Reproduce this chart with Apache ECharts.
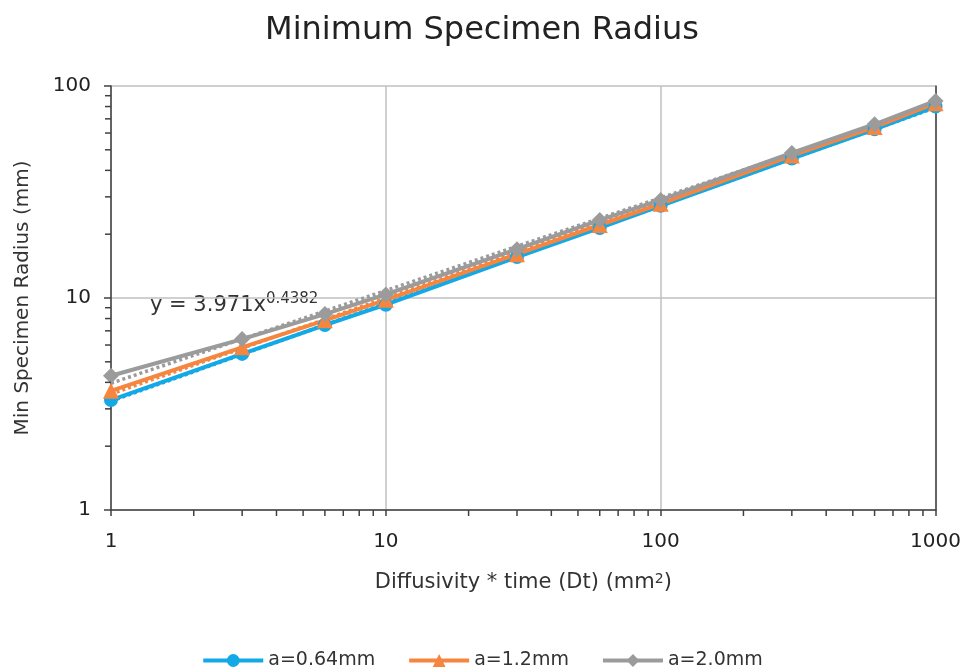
<!DOCTYPE html>
<html>
<head>
<meta charset="utf-8">
<script src="https://cdn.jsdelivr.net/npm/echarts@6/dist/echarts.min.js"></script>
<style>
html,body{margin:0;padding:0;background:#fff;}
#chart{width:964px;height:668px;}
</style>
</head>
<body>
<div id="chart"></div>
<script>
// ---- data ----
const dtValues = [1, 3, 6, 10, 30, 60, 100, 300, 600, 1000];
const radiusA064 = [3.3, 5.45, 7.45, 9.3, 15.6, 21.4, 27.2, 45.5, 62.5, 80];
const radiusA12 = [3.65, 5.85, 7.85, 9.8, 16.1, 22.1, 27.8, 47, 64, 83];
const radiusA20 = [4.3, 6.4, 8.4, 10.4, 17, 23.3, 29, 48.3, 66, 85];
const seriesNames = ['a=0.64mm', 'a=1.2mm', 'a=2.0mm'];
const xMinorTicks = [2,3,4,5,6,7,8,9,20,30,40,50,60,70,80,90,200,300,400,500,600,700,800,900];
const yMinorTicks = [2,3,4,5,6,7,8,9,20,30,40,50,60,70,80,90];
const equationText = ['y = 3.971x', '0.4382'];

const colors = ['#12a9e6', '#f5853f', '#9b9b9b'];
const symbols = ['circle', 'triangle', 'diamond'];
const symbolSizes = [14, 16, 16];
const FONT = 'DejaVu Sans';

function pairs(xs, ys){ return xs.map((x,i)=>[x, ys[i]]); }
function powerFit(xs, ys){
  const lx = xs.map(Math.log), ly = ys.map(Math.log);
  const n = xs.length;
  const mx = lx.reduce((a,b)=>a+b,0)/n, my = ly.reduce((a,b)=>a+b,0)/n;
  let sxy=0, sxx=0;
  for(let i=0;i<n;i++){ sxy += (lx[i]-mx)*(ly[i]-my); sxx += (lx[i]-mx)*(lx[i]-mx); }
  const b = sxy/sxx, a = Math.exp(my - b*mx);
  const x0 = xs[0], x1 = xs[n-1];
  return [[x0, a*Math.pow(x0,b)], [x1, a*Math.pow(x1,b)]];
}

const allData = [radiusA064, radiusA12, radiusA20];
const series = [];
allData.forEach((d,i)=>{
  series.push({
    name: seriesNames[i] + ' trend', type: 'line', data: powerFit(dtValues, d),
    showSymbol: false, symbol: 'none', silent: true, z: 2,
    lineStyle: {color: colors[i], width: 3.5, type: [3, 3]}
  });
});
allData.forEach((d,i)=>{
  series.push({
    name: seriesNames[i], type: 'line', data: pairs(dtValues, d),
    symbol: symbols[i], symbolSize: symbolSizes[i], z: 3,
    itemStyle: {color: colors[i]},
    lineStyle: {color: colors[i], width: 4}
  });
});
// minor ticks drawn through the axis scales
series.push({
  type: 'custom', silent: true, z: 5,
  data: xMinorTicks.map(v=>[v, 1]),
  renderItem: function(params, api){
    const p = api.coord([api.value(0), api.value(1)]);
    return {type:'line', shape:{x1:p[0], y1:p[1], x2:p[0], y2:p[1]+6}, style:{stroke:'#404040', lineWidth:1.5}};
  }
});
series.push({
  type: 'custom', silent: true, z: 5,
  data: yMinorTicks.map(v=>[1, v]),
  renderItem: function(params, api){
    const p = api.coord([api.value(0), api.value(1)]);
    return {type:'line', shape:{x1:p[0]-6, y1:p[1], x2:p[0], y2:p[1]}, style:{stroke:'#404040', lineWidth:1.5}};
  }
});

const chart = echarts.init(document.getElementById('chart'));
chart.setOption({
  animation: false,
  backgroundColor: '#fff',
  textStyle: {fontFamily: FONT},
  title: {
    text: 'Minimum Specimen Radius', left: 'center', top: 10,
    textStyle: {fontFamily: FONT, fontSize: 32, fontWeight: 'normal', color: '#222'}
  },
  grid: {left: 111, right: 27, top: 86, bottom: 158},
  legend: {
    data: seriesNames, top: 646, left: 'center', itemWidth: 60, itemHeight: 16, itemGap: 32,
    lineStyle: {width: 4},
    textStyle: {fontFamily: FONT, fontSize: 19, color: '#333'}
  },
  xAxis: {
    type: 'log', logBase: 10, min: 1, max: 1000,
    axisLine: {show: true, lineStyle: {color: '#404040', width: 1.5}},
    axisTick: {show: true, length: 6, lineStyle: {color: '#404040', width: 1.5}},
    axisLabel: {fontFamily: FONT, fontSize: 20, color: '#222', margin: 22, formatter: v => String(v)},
    splitLine: {show: true, lineStyle: {color: '#c0c0c0', width: 1.5}},
    name: '{a|Diffusivity * time (Dt) (mm}{s|2}{a|)}',
    nameLocation: 'middle', nameGap: 62,
    nameTextStyle: {rich: {
      a: {fontFamily: FONT, fontSize: 21, color: '#333'},
      s: {fontFamily: FONT, fontSize: 14, color: '#333', verticalAlign: 'top', padding: [0,0,8,0]}
    }}
  },
  yAxis: [{
    type: 'log', logBase: 10, min: 1, max: 100,
    axisLine: {show: true, lineStyle: {color: '#404040', width: 1.5}},
    axisTick: {show: true, length: 7, lineStyle: {color: '#404040', width: 1.5}},
    axisLabel: {fontFamily: FONT, fontSize: 20, color: '#222', margin: 20, formatter: v => String(v)},
    splitLine: {show: true, lineStyle: {color: '#c0c0c0', width: 1.5}},
    name: 'Min Specimen Radius (mm)', nameLocation: 'middle', nameGap: 78,
    nameTextStyle: {fontFamily: FONT, fontSize: 20, color: '#333'}
  }, {
    type: 'log', logBase: 10, min: 1, max: 100, position: 'right',
    axisLine: {show: true, lineStyle: {color: '#404040', width: 1.5}},
    axisTick: {show: false}, axisLabel: {show: false}, splitLine: {show: false}
  }],
  graphic: [{
    type: 'text', left: 150, top: 292, silent: true,
    style: {
      text: '{a|' + equationText[0] + '}{s|' + equationText[1] + '}',
      rich: {
        a: {fontFamily: FONT, fontSize: 21, fill: '#333'},
        s: {fontFamily: FONT, fontSize: 15, fill: '#333', verticalAlign: 'top', padding: [0,0,12,0]}
      }
    }
  }],
  series: series
});
</script>
</body>
</html>
